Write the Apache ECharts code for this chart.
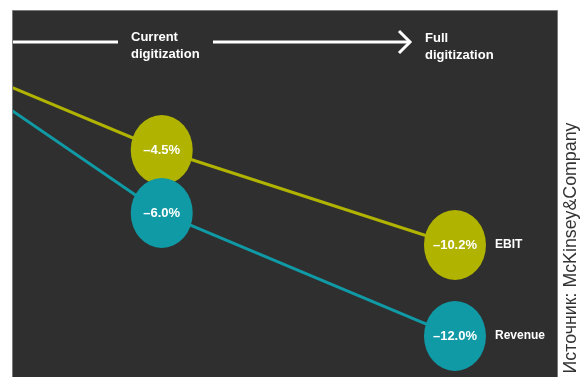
<!DOCTYPE html>
<html>
<head>
<meta charset="utf-8">
<script src="https://cdn.jsdelivr.net/npm/echarts@6/dist/echarts.min.js"></script>
<style>
  html, body { margin: 0; padding: 0; background: #ffffff; }
  #chart { width: 581px; height: 377px; }
</style>
</head>
<body>
<div id="chart"></div>
<script>
// Digitization level for each stage (start, current, full)
const digitization = [0, 38, 100];
const stageLabels = ['', 'Current\ndigitization', 'Full\ndigitization'];
// Change vs. today, %
const ebit = [0, -4.5, -10.2];
const revenue = [0, -6.0, -12.0];
const seriesNames = ['EBIT', 'Revenue'];
const sourceText = 'Источник: McKinsey&Company';

const EBIT_COLOR = '#b0b300';
const REV_COLOR = '#109aa6';
const PANEL = { x: 13, y: 11, w: 544, h: 365 };
const NARROW = '"Liberation Sans Narrow", "Liberation Sans", Arial, sans-serif';

const pairs = (xs, ys) => xs.map((x, i) => [x, ys[i]]);
const fmt = v => '\u2013' + Math.abs(v).toFixed(1) + '%';

function lineSeries(name, values, color, yIndex) {
  return {
    type: 'line',
    name: name,
    yAxisIndex: yIndex,
    data: pairs(digitization, values),
    showSymbol: false,
    clip: true,
    lineStyle: { color: color, width: 3 },
    endLabel: {
      show: true,
      formatter: '{a}',
      distance: 40,
      color: '#ffffff',
      fontFamily: NARROW,
      fontWeight: 'bold',
      fontSize: 12
    },
    z: 2
  };
}

function bubbleSeries(name, values, color, yIndex) {
  return {
    type: 'scatter',
    name: name + ' bubble',
    yAxisIndex: yIndex,
    data: pairs(digitization, values).slice(1),
    symbol: 'circle',
    symbolSize: [62, 70],
    itemStyle: { color: color, opacity: 1 },
    label: {
      show: true,
      position: 'inside',
      formatter: p => fmt(p.value[1]),
      color: '#ffffff',
      fontFamily: NARROW,
      fontWeight: 'bold',
      fontSize: 13
    },
    z: 3
  };
}

const chart = echarts.init(document.getElementById('chart'), null, { renderer: 'canvas' });

const whiteText = {
  fill: '#ffffff',
  font: 'bold 13px ' + NARROW,
  lineHeight: 17,
  textVerticalAlign: 'top'
};

chart.setOption({
  animation: false,
  backgroundColor: '#ffffff',
  // plot area starts a little inside the panel so the clipped lines end at its edge
  grid: { left: 15, top: PANEL.y, width: 542, height: PANEL.h, containLabel: false },
  xAxis: {
    type: 'value', min: 6.977, max: 121.57, show: false
  },
  yAxis: [
    { type: 'value', min: -18.06, max: 3.84, show: false },
    { type: 'value', min: -13.95, max: 3.854, show: false }
  ],
  graphic: [
    {
      type: 'rect', z: -10, silent: true,
      shape: { x: PANEL.x - 0.5, y: PANEL.y - 0.5, width: PANEL.w + 1, height: PANEL.h + 2 },
      style: { fill: '#2f2f2f', stroke: '#7a7a7a', lineWidth: 1 }
    },
    // stage arrow across the top
    {
      type: 'line', z: 5, silent: true,
      shape: { x1: PANEL.x, y1: 42, x2: 118, y2: 42 },
      style: { stroke: '#ffffff', lineWidth: 3 }
    },
    {
      type: 'line', z: 5, silent: true,
      shape: { x1: 213, y1: 42, x2: 409, y2: 42 },
      style: { stroke: '#ffffff', lineWidth: 3 }
    },
    {
      type: 'polyline', z: 5, silent: true,
      shape: { points: [[399, 31], [410, 42], [399, 53]] },
      style: { stroke: '#ffffff', lineWidth: 3, fill: null }
    },
    {
      type: 'text', z: 5, silent: true, x: 131, y: 29,
      style: Object.assign({ text: stageLabels[1] }, whiteText)
    },
    {
      type: 'text', z: 5, silent: true, x: 425, y: 30,
      style: Object.assign({ text: stageLabels[2] }, whiteText)
    },
    // source note
    {
      type: 'text', silent: true, x: 571, y: 248, rotation: Math.PI / 2,
      style: {
        text: sourceText,
        fill: '#333333',
        font: '17.8px "Liberation Sans", Arial, sans-serif',
        textAlign: 'center',
        textVerticalAlign: 'middle'
      }
    }
  ],
  series: [
    lineSeries(seriesNames[0], ebit, EBIT_COLOR, 0),
    lineSeries(seriesNames[1], revenue, REV_COLOR, 1),
    bubbleSeries(seriesNames[0], ebit, EBIT_COLOR, 0),
    bubbleSeries(seriesNames[1], revenue, REV_COLOR, 1)
  ]
});
</script>
</body>
</html>
